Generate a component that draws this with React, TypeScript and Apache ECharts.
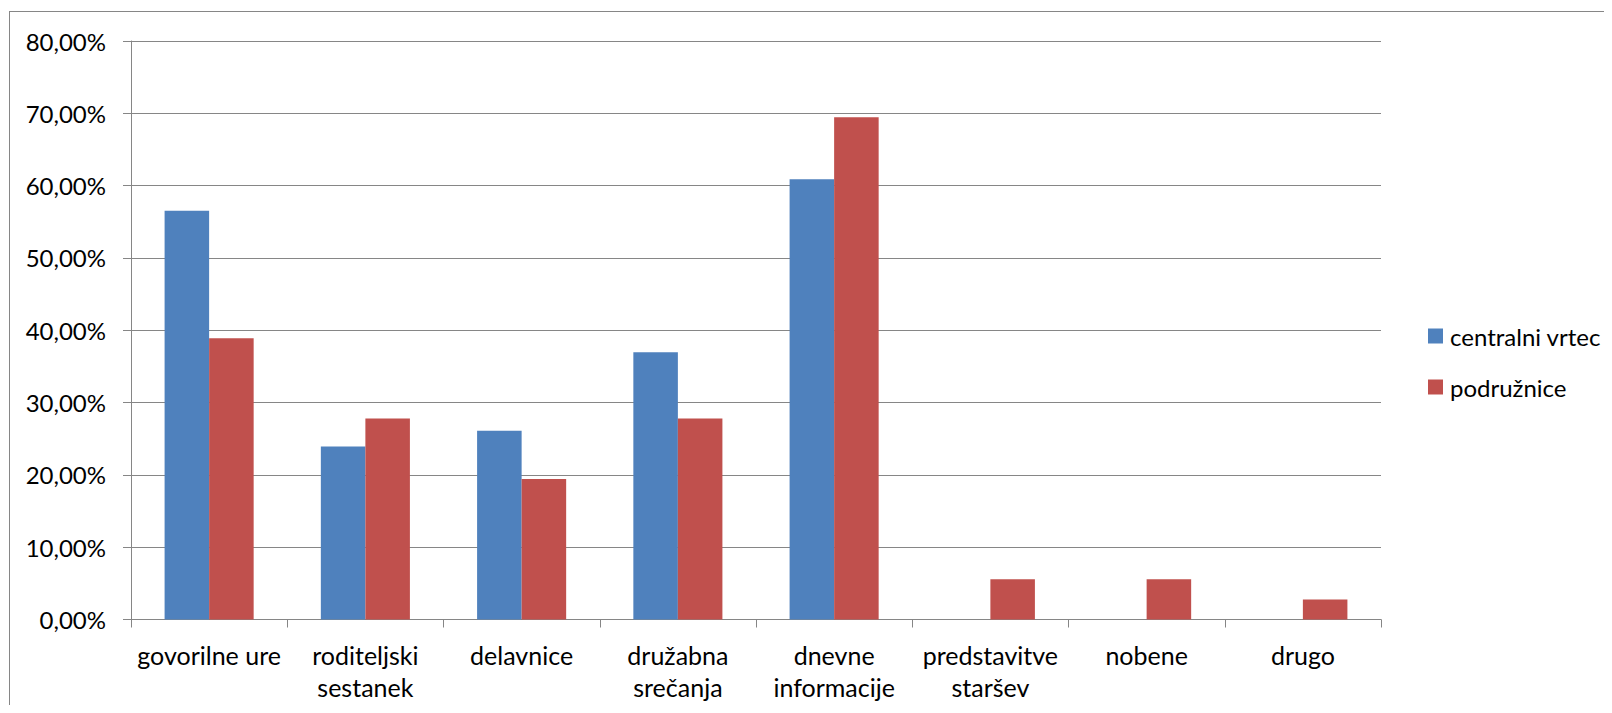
import React, { useEffect, useRef } from "react";
import * as echarts from "echarts";

const categories = [
  "govorilne ure",
  "roditeljski\nsestanek",
  "delavnice",
  "družabna\nsrečanja",
  "dnevne\ninformacije",
  "predstavitve\nstaršev",
  "nobene",
  "drugo",
];
const centralniVrtec = [56.52, 23.91, 26.09, 36.96, 60.87, 0, 0, 0];
const podruznice = [38.89, 27.78, 19.44, 27.78, 69.44, 5.56, 5.56, 2.78];
const seriesNames = ["centralni vrtec", "podružnice"];

const FONT = "Lato";

export default function App() {
  const ref = useRef<HTMLDivElement>(null);
  useEffect(() => {
    if (!ref.current) return;
    const chart = echarts.init(ref.current, undefined, { renderer: "svg" });
    chart.setOption({
      animation: false,
      textStyle: { fontFamily: FONT },
      grid: { left: 121, right: 223, top: 29, bottom: 88.5, containLabel: false },
      legend: {
        orient: "vertical",
        left: 1413,
        top: 306,
        itemWidth: 15,
        itemHeight: 15,
        itemGap: 25,
        icon: "rect",
        textStyle: { fontSize: 24, color: "#000", fontFamily: FONT, lineHeight: 26, padding: [0, 0, 0, 2] },
        data: seriesNames,
      },
      xAxis: {
        type: "category",
        data: categories,
        axisLine: { lineStyle: { color: "#868686", width: 1 } },
        axisTick: { show: true, length: 8, lineStyle: { color: "#868686" } },
        axisLabel: {
          color: "#000",
          fontSize: 25,
          lineHeight: 32,
          margin: 19,
          interval: 0,
          fontFamily: FONT,
        },
      },
      yAxis: {
        type: "value",
        min: 0,
        max: 80,
        interval: 10,
        axisLine: { show: true, lineStyle: { color: "#868686", width: 1 } },
        axisTick: { show: true, length: 8, lineStyle: { color: "#868686" } },
        splitLine: { lineStyle: { color: "#868686", width: 1 } },
        axisLabel: {
          color: "#000",
          fontSize: 24,
          margin: 25,
          fontFamily: FONT,
          formatter: (v: number) => v.toFixed(2).replace(".", ",") + "%",
        },
      },
      series: [
        {
          name: seriesNames[0],
          type: "bar",
          data: centralniVrtec,
          itemStyle: { color: "#4F81BD" },
          barGap: "0%",
          barCategoryGap: "43%",
        },
        {
          name: seriesNames[1],
          type: "bar",
          data: podruznice,
          itemStyle: { color: "#C0504D" },
          barGap: "0%",
          barCategoryGap: "43%",
        },
      ],
    });
    return () => chart.dispose();
  }, []);
  return (
    <div
      style={{
        position: "relative",
        left: 1,
        top: 3,
        width: 1595,
        height: 697,
        borderLeft: "1px solid #868686",
        borderTop: "1px solid #868686",
        boxSizing: "border-box",
        background: "#fff",
      }}
    >
      <div ref={ref} style={{ width: 1594, height: 696 }} />
    </div>
  );
}
